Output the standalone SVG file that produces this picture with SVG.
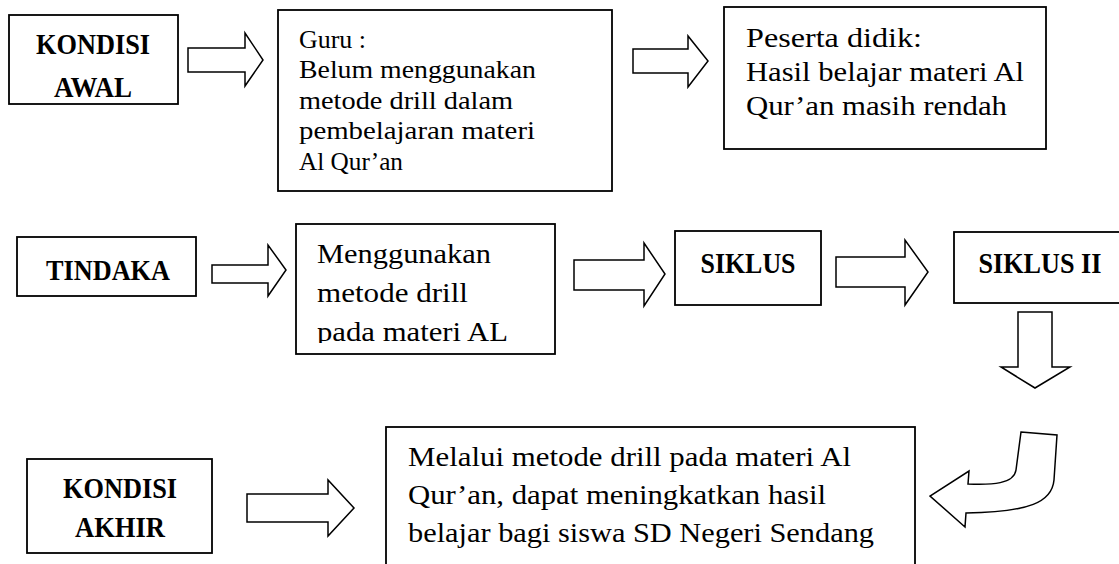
<svg xmlns="http://www.w3.org/2000/svg" width="1119" height="564" viewBox="0 0 1119 564">
<style>
.box{fill:#fff;stroke:#000;stroke-width:1.8}
.arr{fill:#fff;stroke:#000;stroke-width:1.5;stroke-linejoin:miter}
.b{font-family:"Liberation Serif","Times New Roman",serif;font-weight:bold;font-size:29px;fill:#000;text-anchor:middle}
.r{font-family:"Liberation Serif","Times New Roman",serif;fill:#000}
.s26{font-size:26px}
.s28{font-size:28px}
</style>
<defs>
<clipPath id="clipM"><rect x="296" y="224" width="259" height="119"/></clipPath>
</defs>
<rect width="1119" height="564" fill="#fff"/>

<g id="kondisi-awal">
<rect class="box" x="9" y="15" width="169" height="89"/>
<text class="b" x="93" y="54" textLength="114" lengthAdjust="spacingAndGlyphs">KONDISI</text>
<text class="b" x="93" y="97" textLength="78" lengthAdjust="spacingAndGlyphs">AWAL</text>
</g>

<g id="guru">
<rect class="box" x="278" y="10" width="334" height="181"/>
<text class="r s26" x="299" y="48" textLength="67" lengthAdjust="spacingAndGlyphs">Guru :</text>
<text class="r s26" x="299" y="78" textLength="237" lengthAdjust="spacingAndGlyphs">Belum menggunakan</text>
<text class="r s26" x="299" y="109" textLength="214" lengthAdjust="spacingAndGlyphs">metode drill dalam</text>
<text class="r s26" x="299" y="139" textLength="236" lengthAdjust="spacingAndGlyphs">pembelajaran materi</text>
<text class="r s26" x="299" y="170" textLength="104" lengthAdjust="spacingAndGlyphs">Al Qur’an</text>
</g>

<g id="peserta">
<rect class="box" x="724" y="7" width="322" height="142"/>
<text class="r s28" x="746" y="47" textLength="176" lengthAdjust="spacingAndGlyphs">Peserta didik:</text>
<text class="r s28" x="746" y="81" textLength="278" lengthAdjust="spacingAndGlyphs">Hasil belajar materi Al</text>
<text class="r s28" x="746" y="115" textLength="261" lengthAdjust="spacingAndGlyphs">Qur’an masih rendah</text>
</g>

<g id="tindaka">
<rect class="box" x="17" y="237" width="179" height="59"/>
<text class="b" x="108" y="280" textLength="124" lengthAdjust="spacingAndGlyphs">TINDAKA</text>
</g>

<g id="menggunakan">
<rect class="box" x="296" y="224" width="259" height="130"/>
<g clip-path="url(#clipM)">
<text class="r s28" x="317" y="263" textLength="174" lengthAdjust="spacingAndGlyphs">Menggunakan</text>
<text class="r s28" x="317" y="302" textLength="151" lengthAdjust="spacingAndGlyphs">metode drill</text>
<text class="r s28" x="317" y="341" textLength="191" lengthAdjust="spacingAndGlyphs">pada materi AL</text>
</g>
</g>

<g id="siklus">
<rect class="box" x="675" y="231" width="146" height="74"/>
<text class="b" x="748" y="273" textLength="95" lengthAdjust="spacingAndGlyphs">SIKLUS</text>
</g>

<g id="siklus-ii">
<rect class="box" x="954" y="232" width="170" height="71"/>
<text class="b" x="1040" y="273" textLength="123" lengthAdjust="spacingAndGlyphs">SIKLUS II</text>
</g>

<g id="kondisi-akhir">
<rect class="box" x="27" y="459" width="185" height="94"/>
<text class="b" x="120" y="498" textLength="114" lengthAdjust="spacingAndGlyphs">KONDISI</text>
<text class="b" x="120" y="537" textLength="90" lengthAdjust="spacingAndGlyphs">AKHIR</text>
</g>

<g id="hasil">
<rect class="box" x="386" y="427" width="529" height="160"/>
<text class="r s28" x="408" y="466" textLength="443" lengthAdjust="spacingAndGlyphs">Melalui metode drill pada materi Al</text>
<text class="r s28" x="408" y="504" textLength="418" lengthAdjust="spacingAndGlyphs">Qur’an, dapat meningkatkan hasil</text>
<text class="r s28" x="408" y="542" textLength="466" lengthAdjust="spacingAndGlyphs">belajar bagi siswa SD Negeri Sendang</text>
</g>

<g id="connectors">
<polygon class="arr" points="188,48 245,48 245,33 263,60 245,86 245,72 188,72"/>
<polygon class="arr" points="633,49 688,49 688,36 708,61 688,87 688,73 633,73"/>
<polygon class="arr" points="212,265 268,265 268,245 286,270 268,296 268,283 212,283"/>
<polygon class="arr" points="574,260 644,260 644,243 665,274 644,306 644,290 574,290"/>
<polygon class="arr" points="836,257 905,257 905,240 928,272 905,305 905,287 836,287"/>
<polygon class="arr" points="1018,312 1052,312 1052,367 1070,367 1035,388 1001,367 1018,367"/>
<polygon class="arr" points="247,494 328,494 328,480 354,508 328,536 328,522 247,522"/>
<path class="arr" d="M1021,432 L1057,435 L1054,480 C1052,502 1030,512 966,513 L965,527 L930,496 L969,471 L968,484 C992,485 1014,484 1016,470 Z"/>
</g>
</svg>
